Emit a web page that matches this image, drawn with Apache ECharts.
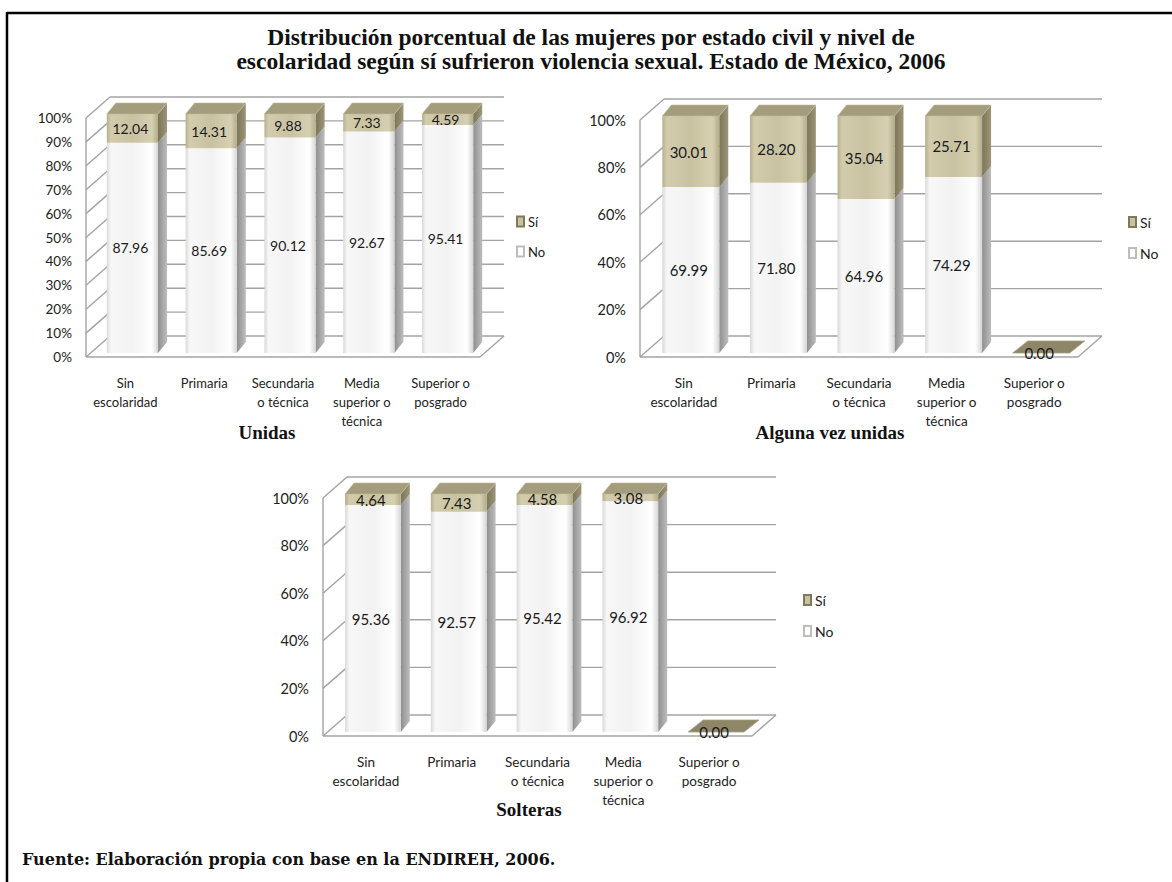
<!DOCTYPE html>
<html>
<head>
<meta charset="utf-8">
<script src="https://cdn.jsdelivr.net/npm/echarts@6/dist/echarts.min.js"></script>
<style>
  html, body { margin: 0; padding: 0; background: #fff; }
  #chart { width: 1172px; height: 882px; }
</style>
</head>
<body>
<div id="chart"></div>
<script>
// Education levels (shared by the three panels)
const categories = ['Sin\nescolaridad', 'Primaria', 'Secundaria\no técnica', 'Media\nsuperior o\ntécnica', 'Superior o\nposgrado'];

// Unidas
const unidasNo = [87.96, 85.69, 90.12, 92.67, 95.41];
const unidasSi = [12.04, 14.31, 9.88, 7.33, 4.59];
// Alguna vez unidas
const algunaNo = [69.99, 71.80, 64.96, 74.29, 0.00];
const algunaSi = [30.01, 28.20, 35.04, 25.71, 0.00];
// Solteras
const solterasNo = [95.36, 92.57, 95.42, 96.92, 0.00];
const solterasSi = [4.64, 7.43, 4.58, 3.08, 0.00];

// Axis ticks (percent)
const ticksUnidas = [0, 10, 20, 30, 40, 50, 60, 70, 80, 90, 100];
const ticksAlguna = [0, 20, 40, 60, 80, 100];
const ticksSolteras = [0, 20, 40, 60, 80, 100];

const panelTitles = ['Unidas', 'Alguna vez unidas', 'Solteras'];
const seriesNames = ['Sí', 'No'];

// pseudo-3D geometry (pixels)
const WALL_DX = 24, WALL_DY = -21;   // depth of the chart box
const BAR_OX = 7, BAR_OY = -4;       // bars sit a little inside the box
const BAR_DX = 9, BAR_DY = -11;      // depth of each bar
const BAR_RATIO = 0.65;

const WALL_COLOR = '#a3a3a3';
const LABEL_FONT = 'Lato, "Open Sans", sans-serif';

function hGrad(stops) {
  return { type: 'linear', x: 0, y: 0, x2: 1, y2: 0, colorStops: stops };
}

const noFront = hGrad([
  { offset: 0, color: '#d9d9d9' }, { offset: 0.08, color: '#f7f7f7' },
  { offset: 0.5, color: '#f2f2f2' }, { offset: 0.88, color: '#ffffff' },
  { offset: 1, color: '#d6d6d6' }
]);
const noSide = hGrad([{ offset: 0, color: '#8f8f8f' }, { offset: 1, color: '#bdbdbd' }]);
const siFront = hGrad([
  { offset: 0, color: '#b7b08e' }, { offset: 0.08, color: '#d2ccad' },
  { offset: 0.5, color: '#c9c2a1' }, { offset: 0.88, color: '#d6d0b2' },
  { offset: 1, color: '#b3ac8a' }
]);
const siSide = hGrad([{ offset: 0, color: '#7b7559' }, { offset: 1, color: '#9c9577' }]);
const siTop = '#a39c7d';
const flatTop = '#8d8768';

function wallRenderer(ticks) {
  return function (params, api) {
    const cs = params.coordSys;
    const x0 = cs.x, x1 = cs.x + cs.width;
    const yAt = v => api.coord([0, v])[1];
    const yB = yAt(ticks[0]), yT = yAt(ticks[ticks.length - 1]);
    const ls = { stroke: WALL_COLOR, lineWidth: 1.4 };
    const seg = (a, b, c, d) => ({ type: 'line', shape: { x1: a, y1: b, x2: c, y2: d }, style: ls, silent: true });
    const children = [];
    // left wall front edge
    children.push(seg(x0, yB, x0, yT));
    ticks.forEach(v => {
      const y = yAt(v);
      children.push(seg(x0, y, x0 + WALL_DX, y + WALL_DY));                 // side wall rung
      children.push(seg(x0 + WALL_DX, y + WALL_DY, x1 + WALL_DX, y + WALL_DY)); // back wall gridline
    });
    // floor
    children.push(seg(x0, yB, x1, yB));
    children.push(seg(x1, yB, x1 + WALL_DX, yB + WALL_DY));
    return { type: 'group', children: children };
  };
}

function barRenderer(kind, fontSize) {
  return function (params, api) {
    const i = api.value(0);
    const lo = api.value(1), hi = api.value(2);
    const shown = api.value(3);
    const pLo = api.coord([i, lo]);
    const pHi = api.coord([i, hi]);
    const bw = api.size([1, 0])[0] * BAR_RATIO;
    const xl = pLo[0] - bw / 2 + BAR_OX, xr = xl + bw;
    const yb = pLo[1] + BAR_OY, yt = pHi[1] + BAR_OY;
    const children = [];
    const label = {
      type: 'text', silent: true, z2: 10,
      style: {
        text: shown.toFixed(2), x: (xl + xr) / 2 - 2, y: (yb + yt) / 2,
        textAlign: 'center', textVerticalAlign: 'middle',
        fill: '#1a1a1a', fontSize: fontSize, fontFamily: LABEL_FONT
      }
    };
    if (hi - lo <= 0) {
      // zero-height bar: only the lid is visible, lying on the floor
      if (kind === 'si') {
        children.push({
          type: 'polygon', silent: true,
          shape: { points: [[xl, yb], [xl + BAR_DX + 6, yb + BAR_DY - 1], [xr + BAR_DX + 6, yb + BAR_DY - 1], [xr, yb]] },
          style: { fill: flatTop, stroke: '#a59f80', lineWidth: 0.8, lineJoin: 'round' }
        });
        children.push(label);
      }
      return { type: 'group', children: children };
    }
    const front = kind === 'si' ? siFront : noFront;
    const side = kind === 'si' ? siSide : noSide;
    // side face
    children.push({
      type: 'polygon', silent: true,
      shape: { points: [[xr, yt], [xr + BAR_DX, yt + BAR_DY], [xr + BAR_DX, yb + BAR_DY], [xr, yb]] },
      style: { fill: side }
    });
    // front face
    children.push({
      type: 'rect', silent: true,
      shape: { x: xl, y: yt, width: bw, height: yb - yt },
      style: { fill: front }
    });
    // lid on the upper segment
    if (kind === 'si') {
      children.push({
        type: 'polygon', silent: true,
        shape: { points: [[xl, yt], [xl + BAR_DX, yt + BAR_DY], [xr + BAR_DX, yt + BAR_DY], [xr, yt]] },
        style: { fill: siTop, stroke: '#c4bd9c', lineWidth: 0.6 }
      });
    }
    children.push(label);
    return { type: 'group', children: children };
  };
}

// panel layout: front plane of each chart box
const panels = [
  { no: unidasNo, si: unidasSi, ticks: ticksUnidas, interval: 10, left: 86, top: 118, width: 394, height: 239, font: 14, catFont: 13,
    legend: { left: 516, top: 215 }, title: { left: 267, top: 433 } },
  { no: algunaNo, si: algunaSi, ticks: ticksAlguna, interval: 20, left: 640, top: 120, width: 438, height: 237, font: 15, catFont: 13.5,
    legend: { left: 1128, top: 215 }, title: { left: 830, top: 433 } },
  { no: solterasNo, si: solterasSi, ticks: ticksSolteras, interval: 20, left: 323, top: 498, width: 429, height: 238, font: 15, catFont: 13.5,
    legend: { left: 803, top: 593 }, title: { left: 529, top: 810 } }
];

const grid = [], xAxis = [], yAxis = [], series = [], legend = [];
const titles = [{
  text: 'Distribución porcentual de las mujeres por estado civil y nivel de\nescolaridad según sí sufrieron violencia sexual. Estado de México, 2006',
  left: 591, top: 25, textAlign: 'center', padding: 0,
  textStyle: { fontFamily: '"Liberation Serif", serif', fontWeight: 'bold', fontSize: 23.5, lineHeight: 24, color: '#111' }
}];

panels.forEach((p, k) => {
  grid.push({ left: p.left, top: p.top, width: p.width, height: p.height });
  xAxis.push({
    type: 'category', gridIndex: k, data: categories,
    axisLine: { show: false }, axisTick: { show: false }, splitLine: { show: false },
    axisLabel: { interval: 0, margin: 16, color: '#222', fontSize: p.catFont, lineHeight: 19, fontFamily: LABEL_FONT }
  });
  yAxis.push({
    type: 'value', gridIndex: k, min: 0, max: 100, interval: p.interval,
    axisLine: { show: false }, axisTick: { show: false }, splitLine: { show: false },
    axisLabel: { formatter: '{value}%', margin: 14, color: '#222', fontSize: p.font - 0.5, fontFamily: LABEL_FONT }
  });
  series.push({
    type: 'custom', name: 'box' + k, xAxisIndex: k, yAxisIndex: k, z: 1,
    renderItem: wallRenderer(p.ticks), data: [[0, 0]], silent: true
  });
  series.push({
    type: 'custom', name: 'No', xAxisIndex: k, yAxisIndex: k, z: 2,
    itemStyle: { color: '#ffffff', borderColor: '#bdbdbd', borderWidth: 1 },
    renderItem: barRenderer('no', p.font),
    encode: { x: 0, y: [1, 2] },
    data: p.no.map((v, i) => [i, 0, v, v])
  });
  series.push({
    type: 'custom', name: 'Sí', xAxisIndex: k, yAxisIndex: k, z: 3,
    itemStyle: { color: '#c9c2a1', borderColor: '#7f795c', borderWidth: 1 },
    renderItem: barRenderer('si', p.font),
    encode: { x: 0, y: [1, 2] },
    data: p.si.map((v, i) => [i, p.no[i], p.no[i] + v, v])
  });
  legend.push({
    data: seriesNames, orient: 'vertical', left: p.legend.left, top: p.legend.top, padding: 0,
    icon: 'rect', itemWidth: 7, itemHeight: 10, itemGap: 17, selectedMode: false,
    textStyle: { color: '#222', fontSize: p.font - 1, fontFamily: LABEL_FONT, padding: [0, 0, 0, -1] }
  });
  titles.push({
    text: panelTitles[k], left: p.title.left, top: p.title.top - 10, textAlign: 'center', padding: 0,
    textStyle: { fontFamily: '"Liberation Serif", serif', fontWeight: 'bold', fontSize: 19, color: '#111' }
  });
});

titles.push({
  text: 'Fuente: Elaboración propia con base en la ENDIREH, 2006.',
  left: 22, top: 851, padding: 0,
  textStyle: { fontFamily: '"DejaVu Serif", serif', fontWeight: 'bold', fontSize: 16, color: '#111' }
});

const chart = echarts.init(document.getElementById('chart'), null, { renderer: 'svg' });
chart.setOption({
  backgroundColor: '#ffffff',
  animation: false,
  title: titles,
  legend: legend,
  grid: grid,
  xAxis: xAxis,
  yAxis: yAxis,
  series: series,
  graphic: [
    // outer frame: top and left rules
    { type: 'line', shape: { x1: 7, y1: 13, x2: 1172, y2: 13 }, style: { stroke: '#000', lineWidth: 2.5 }, silent: true },
    { type: 'line', shape: { x1: 7, y1: 12, x2: 7, y2: 882 }, style: { stroke: '#000', lineWidth: 2.5 }, silent: true }
  ]
});
</script>
</body>
</html>
